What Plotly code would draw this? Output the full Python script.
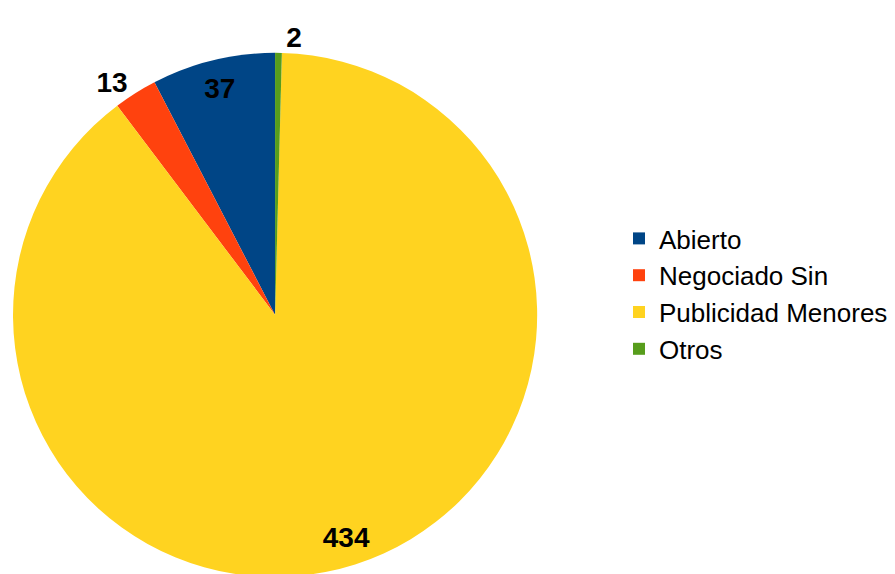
import plotly.graph_objects as go

categories = ["Abierto", "Negociado Sin", "Publicidad Menores", "Otros"]
values = [37, 13, 434, 2]
colors = ["#004586", "#ff420e", "#ffd320", "#579d1c"]
text_positions = ["inside", "outside", "inside", "outside"]

first_slice_deg = 360.0 * values[0] / sum(values)
pie_domain = dict(x=[0.002235, 0.5899], y=[0.00523, 0.9216])
common = dict(
    labels=categories,
    values=values,
    sort=False,
    direction="counterclockwise",
    rotation=-first_slice_deg,
    domain=pie_domain,
)

fig = go.Figure()
# coloured pie (legend source)
fig.add_trace(
    go.Pie(
        **common,
        marker=dict(colors=colors, line=dict(width=0)),
        textinfo="none",
        hoverinfo="label+value+percent",
        showlegend=True,
    )
)
# transparent ring carrying the value labels near the rim
fig.add_trace(
    go.Pie(
        **common,
        hole=0.78,
        marker=dict(colors=["rgba(0,0,0,0)"] * len(values), line=dict(width=0)),
        textinfo="value",
        textposition=text_positions,
        insidetextorientation="horizontal",
        textfont=dict(family="Liberation Sans", size=28, color="black", weight="bold"),
        hoverinfo="skip",
        showlegend=False,
    )
)

fig.update_layout(
    width=895,
    height=574,
    margin=dict(l=0, r=0, t=0, b=0),
    paper_bgcolor="white",
    plot_bgcolor="white",
    font=dict(family="Liberation Sans", color="black"),
    legend=dict(
        x=0.6816,
        y=0.5,
        xanchor="left",
        yanchor="middle",
        font=dict(family="Liberation Sans", size=26, color="black"),
        bgcolor="rgba(0,0,0,0)",
        borderwidth=0,
    ),
    showlegend=True,
)

fig.write_html("out.html")
